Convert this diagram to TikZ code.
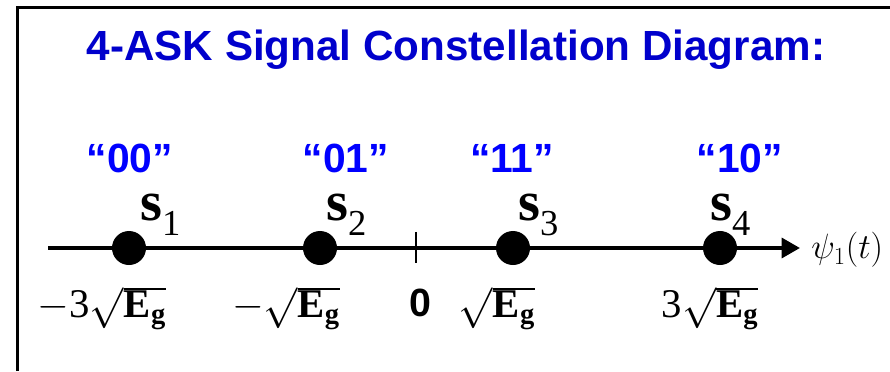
\RequirePackage{fix-cm}
\documentclass[tikz,border=0pt]{standalone}
\usepackage{fontspec}
\setmainfont{Liberation Serif}
\setsansfont{Liberation Sans}
\usetikzlibrary{arrows.meta, positioning}
\definecolor{titleblue}{RGB}{0,0,204}
\definecolor{bitblue}{RGB}{0,0,255}
\newcommand{\symlbl}[1]{{\bfseries s}\raisebox{-11pt}{\fontsize{26}{30}\selectfont #1}}

\begin{document}
\begin{tikzpicture}[x=0.025cm, y=0.025cm,
  ttl/.style={font=\fontsize{30}{36}\selectfont\sffamily\bfseries, text=titleblue,
              inner sep=0pt, anchor=base},
  bits/.style={font=\fontsize{29}{34}\selectfont\sffamily\bfseries, text=bitblue,
               inner sep=0pt, anchor=base},
  sym/.style={font=\fontsize{40}{46}\selectfont, inner sep=0pt, anchor=base west},
  val/.style={font=\fontsize{29}{34}\selectfont, inner sep=0pt, anchor=base},
  pnt/.style={circle, fill=black, minimum size=0.85cm, inner sep=0pt},
]
  \useasboundingbox (0,0) rectangle (890,371);
  \draw[line width=2.5pt, line join=miter] (17.5,0) -- (17.5,363.5) -- (890,363.5);

  \node[ttl] (title) at (456,311) {4-ASK Signal Constellation Diagram:};

  % axis
  \coordinate (axL) at (48,123);
  \coordinate (axR) at (800,123);
  \coordinate (zero) at (416,123);
  \draw[line width=2.8pt, -{Triangle[length=13pt, width=14pt]}] (axL) -- (axR);
  \draw[line width=1.4pt] ([yshift=0.4cm]zero) -- ([yshift=-0.375cm]zero);
  \node[right=0.28cm of axR, yshift=-0.05cm, inner sep=0pt, font=\fontsize{25}{30}\selectfont]
    (psi) {$\psi_{1}(t)$};

  % symbols
  \node[pnt] (s1) at (129,123) {};
  \node[pnt] (s2) at (320,123) {};
  \node[pnt] (s3) at (513,123) {};
  \node[pnt] (s4) at (720,123) {};

  \node[sym] (ls1) at (140,151) {\symlbl{1}};
  \node[sym] (ls2) at (326,151) {\symlbl{2}};
  \node[sym] (ls3) at (518,151) {\symlbl{3}};
  \node[sym] (ls4) at (710,151) {\symlbl{4}};

  \node[bits] (b1) at (130,199) {“00”};
  \node[bits] (b2) at (346,199) {“01”};
  \node[bits] (b3) at (512,199) {“11”};
  \node[bits] (b4) at (740,199) {“10”};

  % amplitudes
  \node[val] (v1) at (102,54) {$-\mathrm{3}\sqrt{\mathbf{E}_\mathbf{g}}$};
  \node[val] (v2) at (286,54) {$-\sqrt{\mathbf{E}_\mathbf{g}}$};
  \node[val, font=\fontsize{28}{34}\selectfont\sffamily\bfseries] (v0) at (420,55) {0};
  \node[val] (v3) at (497,54) {$\sqrt{\mathbf{E}_\mathbf{g}}$};
  \node[val] (v4) at (710,54) {$\mathrm{3}\sqrt{\mathbf{E}_\mathbf{g}}$};
\end{tikzpicture}
\end{document}
